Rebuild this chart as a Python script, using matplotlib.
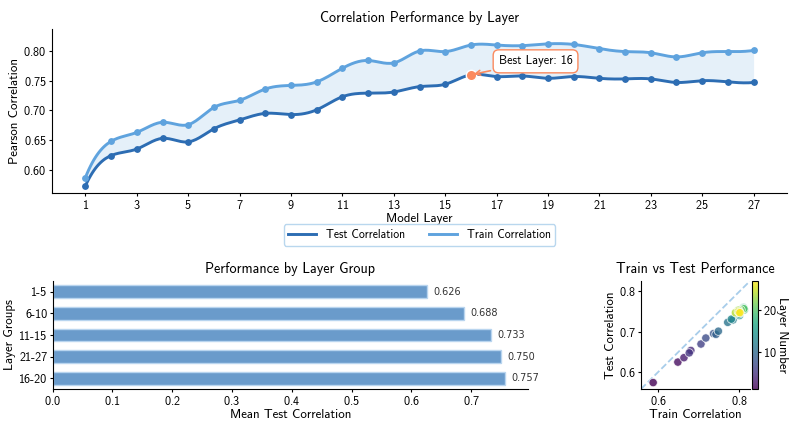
import numpy as np
import matplotlib
matplotlib.use("Agg")
import matplotlib.pyplot as plt

plt.rcParams['font.family'] = ['cmss10', 'DejaVu Sans']
plt.rcParams['axes.unicode_minus'] = False
plt.rcParams['axes.formatter.use_mathtext'] = True
plt.rcParams['xtick.major.size'] = 2.3
plt.rcParams['ytick.major.size'] = 2.3
plt.rcParams['xtick.major.pad'] = 1.8
plt.rcParams['ytick.major.pad'] = 1.5

# per-layer correlations
layers = np.arange(1, 28)
test_corr = [0.573, 0.624, 0.635, 0.653, 0.647, 0.669, 0.684, 0.695, 0.693, 0.701,
             0.723, 0.729, 0.731, 0.740, 0.744, 0.760, 0.757, 0.758, 0.754, 0.757,
             0.754, 0.753, 0.753, 0.747, 0.750, 0.748, 0.747]
train_corr = [0.587, 0.648, 0.663, 0.680, 0.676, 0.705, 0.717, 0.736, 0.742, 0.748,
              0.771, 0.784, 0.780, 0.800, 0.799, 0.810, 0.810, 0.809, 0.812, 0.811,
              0.804, 0.799, 0.797, 0.790, 0.797, 0.799, 0.801]
groups = ['1-5', '6-10', '11-15', '16-20', '21-27']
group_ranges = [(1, 5), (6, 10), (11, 15), (16, 20), (21, 27)]

TEST_C = '#2d6db3'
TRAIN_C = '#5fa3de'
FILL_C = '#e3eff9'
BEST_C = '#fb8a5e'
BAR_C = '#6a9bcb'

TITLE_FS = 10.2
LABEL_FS = 9.3
TICK_FS = 8.8


def spline(x, y, n=400):
    # cubic spline, not-a-knot ends
    x = np.asarray(x, float)
    y = np.asarray(y, float)
    k = len(x)
    h = np.diff(x)
    A = np.zeros((k, k))
    b = np.zeros(k)
    A[0, 0], A[0, 1], A[0, 2] = h[1], -(h[0] + h[1]), h[0]
    A[-1, -3], A[-1, -2], A[-1, -1] = h[-1], -(h[-2] + h[-1]), h[-2]
    for i in range(1, k - 1):
        A[i, i - 1] = h[i - 1]
        A[i, i] = 2 * (h[i - 1] + h[i])
        A[i, i + 1] = h[i]
        b[i] = 6 * ((y[i + 1] - y[i]) / h[i] - (y[i] - y[i - 1]) / h[i - 1])
    M = np.linalg.solve(A, b)
    xs = np.linspace(x[0], x[-1], n)
    idx = np.clip(np.searchsorted(x, xs) - 1, 0, k - 2)
    x0, x1 = x[idx], x[idx + 1]
    hh = x1 - x0
    ys = (M[idx] * (x1 - xs) ** 3 / (6 * hh) + M[idx + 1] * (xs - x0) ** 3 / (6 * hh)
          + (y[idx] / hh - M[idx] * hh / 6) * (x1 - xs)
          + (y[idx + 1] / hh - M[idx + 1] * hh / 6) * (xs - x0))
    return xs, ys


fig = plt.figure(figsize=(7.93, 4.26), dpi=100)
W, H = 793, 426


def box(l, t, r, b):
    return [l / W, 1 - b / H, (r - l) / W, (b - t) / H]


# ---- top: correlation per layer ----
ax = fig.add_axes(box(52, 29, 787, 193))
xs, ys_test = spline(layers, test_corr)
_, ys_train = spline(layers, train_corr)
ax.fill_between(xs, ys_test, ys_train, color=FILL_C, alpha=0.9, lw=0)
ax.plot(xs, ys_test, color=TEST_C, lw=2.1, label='Test Correlation')
ax.plot(xs, ys_train, color=TRAIN_C, lw=2.1, label='Train Correlation')
ax.plot(layers, test_corr, 'o', color=TEST_C, ms=3.9)
ax.plot(layers, train_corr, 'o', color=TRAIN_C, ms=3.9)

best = int(np.argmax(test_corr))
ax.plot(layers[best], test_corr[best], 'o', color=BEST_C, ms=7.5, mec='white', mew=1)
ax.annotate(f'Best Layer: {layers[best]}', xy=(layers[best], test_corr[best]),
            xytext=(20, 7.5), textcoords='offset points', fontsize=8.8,
            bbox=dict(boxstyle='round,pad=0.45', fc='white', ec=BEST_C, lw=1),
            arrowprops=dict(arrowstyle='->', color=BEST_C, lw=1.2))

ax.set_xticks(layers[::2])
ax.set_ylim(0.561, 0.837)
ax.set_xlabel('Model Layer', fontsize=LABEL_FS, labelpad=1)
ax.set_ylabel('Pearson Correlation', fontsize=LABEL_FS, labelpad=2)
ax.set_title('Correlation Performance by Layer', fontsize=TITLE_FS, pad=5)
ax.tick_params(labelsize=TICK_FS)
for s in ['top', 'right']:
    ax.spines[s].set_visible(False)
leg = ax.legend(loc='upper center', bbox_to_anchor=(0.5, -0.155), ncol=2, fontsize=8.4,
                frameon=True, fancybox=True, edgecolor='#a8cdea', columnspacing=2.1,
                handlelength=2.4, borderpad=0.4)
leg.get_frame().set_linewidth(1)

# ---- bottom left: group means ----
means = [np.mean(test_corr[a - 1:b]) for a, b in group_ranges]
order = np.argsort(means)
g_sorted = [groups[i] for i in order]
m_sorted = [means[i] for i in order]

ax2 = fig.add_axes(box(52.7, 281, 528, 389))
ypos = np.arange(len(g_sorted))
ax2.barh(ypos, m_sorted, height=0.6, color=BAR_C, edgecolor='#b9d5ef', lw=1)
ax2.set_ylim(4.5, -0.5)
ax2.set_yticks(ypos)
ax2.set_yticklabels(g_sorted)
for yp, v in zip(ypos, m_sorted):
    ax2.text(v + 0.01, yp, f'{v:.3f}', va='center', ha='left', fontsize=7,
             family='DejaVu Sans', color='#333333')
ax2.set_xlabel('Mean Test Correlation', fontsize=LABEL_FS, labelpad=1)
ax2.set_ylabel('Layer Groups', fontsize=LABEL_FS, labelpad=2)
ax2.set_title('Performance by Layer Group', fontsize=TITLE_FS, pad=6)
ax2.tick_params(labelsize=TICK_FS)
for s in ['top', 'right']:
    ax2.spines[s].set_visible(False)

# ---- bottom right: train vs test ----
ax3 = fig.add_axes(box(641, 281, 750, 389))
sc = ax3.scatter(train_corr, test_corr, c=layers, cmap='viridis', vmin=1, vmax=27,
                 s=36, alpha=0.8, edgecolors='white', linewidths=0.6, zorder=3)
lims = [0.557, 0.826]
ax3.plot(lims, lims, '--', color='#a8cdea', lw=1.3, zorder=1)
ax3.set_xlim(lims)
ax3.set_ylim(lims)
ax3.set_xticks([0.6, 0.8])
ax3.set_yticks([0.6, 0.7, 0.8])
ax3.set_xlabel('Train Correlation', fontsize=LABEL_FS, labelpad=1)
ax3.set_ylabel('Test Correlation', fontsize=LABEL_FS, labelpad=1.5)
ax3.set_title('Train vs Test Performance', fontsize=TITLE_FS, pad=6)
ax3.tick_params(labelsize=TICK_FS)
for s in ['top', 'right']:
    ax3.spines[s].set_visible(False)

cax = fig.add_axes(box(752, 281, 757.5, 389))
cb = fig.colorbar(sc, cax=cax)
cb.set_ticks([10, 20])
cb.ax.tick_params(labelsize=TICK_FS)
cb.set_label('Layer Number', rotation=270, labelpad=8, fontsize=LABEL_FS)
cb.outline.set_linewidth(0.8)

fig.savefig('out.png', dpi=100)
